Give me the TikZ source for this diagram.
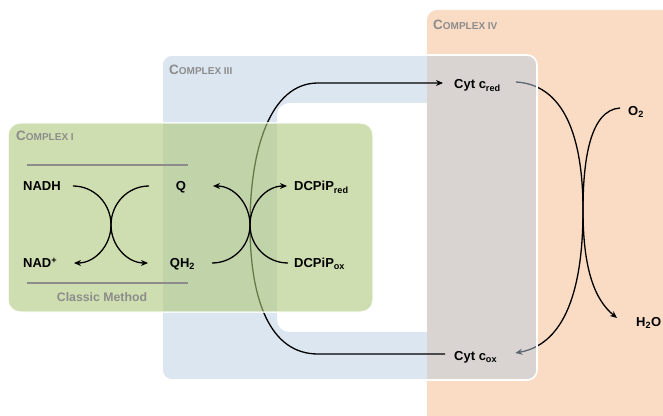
\documentclass[tikz,border=0pt]{standalone}
\usepackage{fontspec}
\setmainfont{Liberation Sans}
\usetikzlibrary{arrows.meta,calc}
\pgfdeclarelayer{lorange}
\pgfdeclarelayer{lcurves}
\pgfdeclarelayer{lblue}
\pgfdeclarelayer{llong}
\pgfdeclarelayer{lgreen}
\pgfsetlayers{lorange,lcurves,lblue,llong,lgreen,main}
\definecolor{orng}{RGB}{250,220,196}
\definecolor{blu}{RGB}{185,205,225}
\definecolor{grn}{RGB}{175,200,123}
\definecolor{ttl}{RGB}{140,140,140}
\newcommand\smallcapsize{\fontsize{10}{12}\selectfont}
\begin{document}
\begin{tikzpicture}[x=1pt,y=1pt,
  lbl/.style={font=\bfseries\fontsize{13}{15}\selectfont, inner sep=0pt, text height=9.3pt, text depth=0pt, text=black},
  ttlstyle/.style={font=\bfseries\fontsize{13.5}{15}\selectfont, text=ttl, inner sep=0pt, anchor=west},
  arr/.style={line width=1.3pt, -{Stealth[length=7pt,width=6pt]}},
  ln/.style={line width=1.3pt},
  rulestyle/.style={draw=ttl, line width=1.2pt}]
\useasboundingbox (0,0) rectangle (663,415);

% labels
\node[lbl,anchor=west] (nadh) at (23,229) {NADH};
\node[lbl,anchor=west] (nadp) at (23,152) {NAD\textsuperscript{+}};
\node[lbl] (q) at (181,229) {Q};
\node[lbl] (qh) at (182.5,152) {QH\textsubscript{2}};
\node[lbl,anchor=west] (dred) at (294,229) {DCPiP\textsubscript{red}};
\node[lbl,anchor=west] (dox) at (294,152) {DCPiP\textsubscript{ox}};
\node[lbl,anchor=west] (cred) at (454,331) {Cyt c\textsubscript{red}};
\node[lbl,anchor=west] (cox) at (454,59) {Cyt c\textsubscript{ox}};
\node[lbl,anchor=west] (o2) at (628,304) {O\textsubscript{2}};
\node[lbl,anchor=west] (h2o) at (636,93) {H\textsubscript{2}O};
\node[font=\bfseries\fontsize{12.3}{14}\selectfont, text=ttl, inner sep=0pt] (cm) at (102,118) {Classic Method};
\node[ttlstyle] (t1) at (16,279) {C\smallcapsize OMPLEX I};
\node[ttlstyle] (t3) at (169,345) {C\smallcapsize OMPLEX III};
\node[ttlstyle] (t4) at (433,390) {C\smallcapsize OMPLEX IV};

\coordinate (x1) at (111,190);
\coordinate (x2) at (250,190);
\coordinate (x3) at (583,205);

% Complex IV background
\begin{pgfonlayer}{lorange}
\fill[orng, rounded corners=10pt] (427,-20) rectangle (690,405);
\end{pgfonlayer}

% curves of complex IV (under the complex III overlay)
\begin{pgfonlayer}{lcurves}
\draw[arr] ($(cred.east)+(15,2)$) .. controls (570,330) and (583,265) .. (x3)
  .. controls (583,145) and (595,115) .. ($(h2o.west)+(-19,4)$);
\draw[arr] ($(o2.west)+(-8,3)$) .. controls (590,305) and (583,255) .. (x3)
  .. controls (583,115) and (560,70) .. ($(cox.east)+(18,3)$);
\end{pgfonlayer}

% Complex III frame
\begin{pgfonlayer}{lblue}
\fill[blu, fill opacity=0.5, even odd rule]
  [rounded corners=10pt] (162,35) rectangle (537,360)
  [sharp corners] (427,83) -- (289,83) arc[start angle=270, end angle=180, radius=12]
  -- (277,300) arc[start angle=180, end angle=90, radius=12] -- (427,312) -- cycle;
\draw[white, line width=1.6pt, rounded corners=10pt] (162,35) rectangle (537,360);
\end{pgfonlayer}

% Cyt c_ox -> Cyt c_red
\begin{pgfonlayer}{llong}
\draw[arr] ($(cox.west)+(-9,2)$) -- (318,61) .. controls (270,61) and (250,115) .. (x2)
  .. controls (250,265) and (270,332) .. (318,332) -- ($(cred.west)+(-11,1)$);
\end{pgfonlayer}

% Complex I
\begin{pgfonlayer}{lgreen}
\path[fill=grn, fill opacity=0.6, draw=white, draw opacity=0.8, line width=1.5pt, rounded corners=12pt]
  (8,103) rectangle (373,292);
\end{pgfonlayer}

\draw[rulestyle] (27,250) -- (188,250);
\draw[rulestyle] (27,132) -- (188,132);

\draw[arr] ($(nadh.east)+(12,0)$) to[out=0,in=90] (x1) to[out=-90,in=180] ($(qh)+(-34.5,0)$);
\draw[arr] ($(q)+(-32,0)$) to[out=180,in=90] (x1) to[out=-90,in=0] ($(nadp.west)+(51,0)$);
\draw[arr] ($(qh)+(29.5,0)$) to[out=0,in=-90] (x2) to[out=90,in=180] ($(dred.west)+(-7,0)$);
\draw[arr] ($(dox.west)+(-6,0)$) to[out=180,in=-90] (x2) to[out=90,in=0] ($(q)+(32,0)$);
\end{tikzpicture}
\end{document}
